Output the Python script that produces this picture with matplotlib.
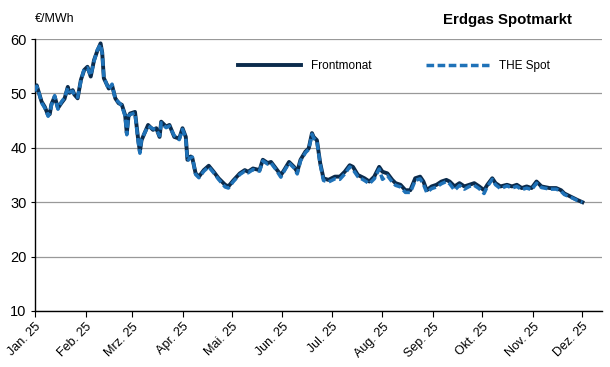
import matplotlib
matplotlib.use("Agg")
import matplotlib.pyplot as plt
import matplotlib.dates as mdates
import pandas as pd

plt.rcParams['font.family'] = ['Liberation Sans', 'DejaVu Sans']

start_date = "2025-01-01"
day_offsets = [0,1,2,4,6,8,9,10,12,14,
               16,18,20,21,23,24,26,28,30,32,
               34,36,38,40,41,42,45,47,49,51,
               53,55,56,57,58,61,63,64,65,69,
               72,74,76,77,80,82,85,88,90,92,
               93,95,96,98,100,103,106,109,112,116,
               118,121,125,128,130,133,137,139,142,144,
               147,150,152,155,158,160,162,165,167,169,
               170,172,174,176,179,183,186,189,192,194,
               197,201,204,207,210,212,215,218,220,223,
               226,229,232,235,237,239,242,245,248,251,
               253,256,259,262,265,268,271,274,276,279,
               281,284,288,291,294,297,300,303,306,309,
               314,318,321,323,327,331,334]

frontmonat = [50.6,51.5,50.5,48.5,47.5,46.0,46.2,48.0,49.4,47.3,
              48.2,49.0,51.2,50.1,50.6,49.8,49.1,52.5,54.3,54.9,
              53.1,56.1,57.8,59.2,57.5,52.8,50.9,51.5,49.1,48.2,
              47.9,46.0,42.7,45.7,46.3,46.6,41.4,39.3,41.4,44.2,
              43.3,43.6,42.0,44.8,43.9,44.2,42.0,41.7,43.6,42.0,
              37.8,38.4,38.1,35.3,34.7,35.9,36.7,35.6,34.4,33.2,
              32.9,34.0,35.3,35.9,35.6,36.2,35.9,37.8,37.2,37.4,
              36.2,35.0,35.9,37.4,36.5,35.6,37.8,39.3,39.9,42.7,
              42.0,41.4,37.2,34.4,34.1,34.7,34.7,35.6,36.8,36.5,
              35.0,34.4,33.8,34.7,36.5,35.6,35.3,34.1,33.5,33.2,
              32.2,32.2,34.4,34.7,33.8,32.2,32.9,33.2,33.8,34.1,
              33.8,32.9,33.5,32.9,33.2,33.5,32.9,32.2,33.2,34.4,
              33.5,32.9,33.2,32.9,33.2,32.6,32.9,32.6,33.8,32.9,
              32.6,32.6,32.2,31.6,31.0,30.4,30.0]

the_spot = [50.4,51.3,50.6,48.3,47.3,45.8,46.4,47.8,49.6,47.1,
            48.4,49.2,51.0,50.3,50.4,49.6,49.3,52.3,54.5,54.7,
            53.3,55.9,58.0,59.0,57.3,53.0,50.7,51.7,48.9,48.4,
            47.7,45.8,42.4,45.9,46.1,46.4,41.0,39.0,41.6,44.0,
            43.5,43.4,42.2,44.6,43.7,44.0,42.2,41.5,43.4,41.8,
            37.6,38.2,38.3,35.1,34.5,35.7,36.5,35.4,34.2,32.8,
            32.6,33.8,35.1,35.7,35.4,36.0,35.7,37.6,37.0,37.2,
            36.0,34.6,35.7,37.2,36.3,35.2,37.6,39.1,39.7,42.5,
            41.8,41.2,37.0,34.0,33.7,34.3,34.2,35.2,36.5,36.0,
            34.7,34.0,33.4,34.3,36.1,34.2,34.9,33.7,33.1,32.8,
            31.8,31.8,34.0,34.3,33.3,31.8,32.5,32.8,33.4,33.8,
            33.4,32.2,33.1,32.4,32.9,33.1,32.5,31.6,32.9,34.2,
            33.2,32.5,33.0,32.6,32.9,32.3,32.6,32.3,33.5,32.7,
            32.4,32.4,32.0,31.4,30.9,30.3,30.0]

month_ticks = ["2025-01-01","2025-02-01","2025-03-01","2025-04-01","2025-05-01","2025-06-01",
               "2025-07-01","2025-08-01","2025-09-01","2025-10-01","2025-11-01","2025-12-01"]
month_labels = ["Jan. 25","Feb. 25","Mrz. 25","Apr. 25","Mai. 25","Jun. 25",
                "Jul. 25","Aug. 25","Sep. 25","Okt. 25","Nov. 25","Dez. 25"]
y_ticks = [10, 20, 30, 40, 50, 60]

dates = pd.Timestamp(start_date) + pd.to_timedelta(day_offsets, unit="D")

fig = plt.figure(figsize=(6.10, 3.67), dpi=100)
ax = fig.add_axes([0.0574, 0.1526, 0.9296, 0.7411])

c_front = "#0b2b4c"
c_spot = "#1f72b8"
ax.plot(dates, frontmonat, color=c_front, lw=2.8, label="Frontmonat", zorder=3)
ax.plot(dates, the_spot, color=c_spot, lw=2.5, ls=(0, (2.2, 1.0)), label="THE Spot", zorder=4)

ax.set_ylim(10, 60)
ax.set_yticks(y_ticks)
ax.set_xlim(pd.Timestamp(start_date), pd.Timestamp(start_date) + pd.Timedelta(days=346))
ax.set_xticks(pd.to_datetime(month_ticks))
ax.set_xticklabels(month_labels, rotation=45, ha="right", rotation_mode="anchor", fontsize=9)
ax.tick_params(axis="y", labelsize=10.5, length=3, width=0.8, pad=3)
ax.tick_params(axis="x", length=4, width=0.8, pad=3)

ax.grid(axis="y", color="#999999", lw=0.9)
ax.set_axisbelow(True)
for s in ["top", "right"]:
    ax.spines[s].set_visible(False)
ax.spines["left"].set_color("black")
ax.spines["bottom"].set_color("black")
ax.spines["left"].set_linewidth(1.0)
ax.spines["bottom"].set_linewidth(1.0)

leg = ax.legend(loc="center left", bbox_to_anchor=(0.358, 0.90), ncol=2, frameon=False,
                handlelength=5.3, handletextpad=0.9, columnspacing=4.6,
                borderpad=0, borderaxespad=0, fontsize=8.5)

fig.text(0.0574, 0.948, "€/MWh", fontsize=9, ha="left", va="center")
fig.text(0.938, 0.945, "Erdgas Spotmarkt", fontsize=10.8, fontweight="bold", ha="right", va="center")

fig.savefig("out.png", dpi=100)
